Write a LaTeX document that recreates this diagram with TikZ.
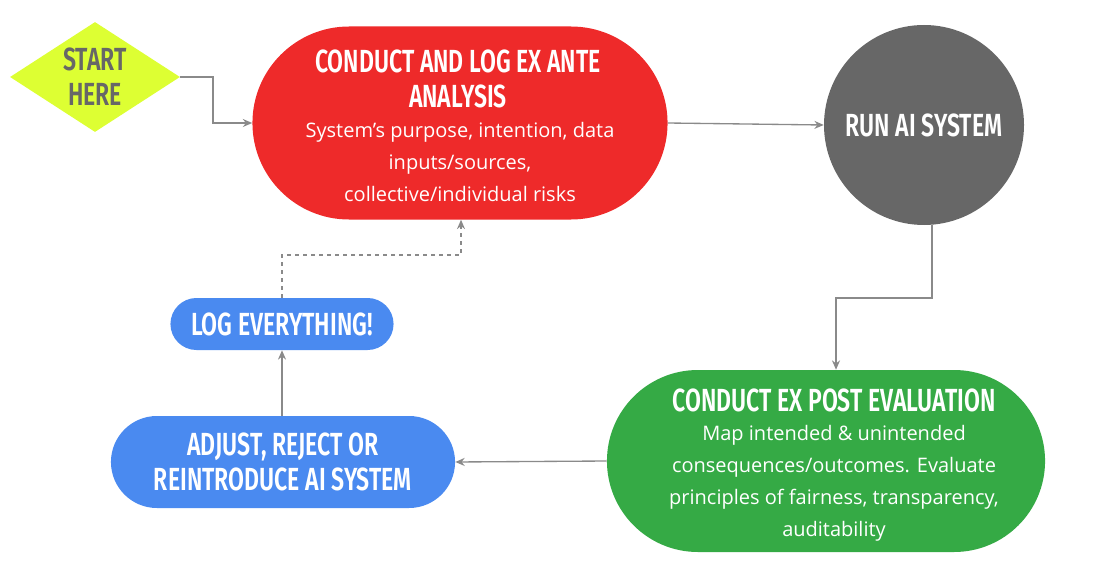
\documentclass[tikz,border=0pt]{standalone}
\usepackage{fontspec}
\setmainfont{Open Sans}
\newfontfamily\condf{Fira Sans}[UprightFont=* SemiBold,FakeStretch=0.72]
\usetikzlibrary{shapes.geometric,shapes.misc,arrows.meta}
\definecolor{cred}{HTML}{EE2A2A}
\definecolor{cgreen}{HTML}{35AA45}
\definecolor{cblue}{HTML}{4A8AF0}
\definecolor{cgray}{HTML}{676767}
\definecolor{cyel}{HTML}{DDFF33}
\definecolor{cline}{HTML}{8A8A8A}
\begin{document}
\begin{tikzpicture}[x=0.75pt,y=-0.75pt,
  ttl/.style={font=\condf\fontsize{24}{26}\selectfont,text=white,align=center},
  body/.style={font=\fontsize{15}{24}\selectfont,text=white,align=center},
  conn/.style={draw=cline,line width=1pt,-{Stealth[length=7pt,width=6pt]}}]
\useasboundingbox (0,0) rectangle (1094,570);
% shapes
\node[diamond,fill=cyel,minimum width=170*0.75pt,minimum height=110*0.75pt,inner sep=0] (start) at (95,77) {};
\node[font=\condf\fontsize{24}{26}\selectfont,text=cgray,align=center] at (95,77) {START\\HERE};
\node[rounded rectangle,fill=cred,minimum width=424*0.75pt,minimum height=193*0.75pt] (ante) at (460,123) {};
\node[ttl] at (458,79) {CONDUCT AND LOG EX ANTE\\ANALYSIS};
\node[body] at (460,162) {System's purpose, intention, data\\inputs/sources,\\collective/individual risks};
\node[circle,fill=cgray,minimum size=200*0.75pt] (run) at (924,125) {};
\node[ttl] at (924,125) {RUN AI SYSTEM};
\node[rounded rectangle,fill=cgreen,minimum width=447*0.75pt,minimum height=182*0.75pt] (post) at (826,461) {};
\node[ttl] at (834,400) {CONDUCT EX POST EVALUATION};
\node[body] at (834,483) {Map intended \& unintended\\consequences/outcomes. Evaluate\\principles of  fairness, transparency,\\auditability};
\node[rounded rectangle,fill=cblue,minimum width=353*0.75pt,minimum height=92*0.75pt] (adj) at (283,462) {};
\node[ttl] at (283,462) {ADJUST, REJECT OR\\REINTRODUCE AI SYSTEM};
\node[rounded rectangle,fill=cblue,minimum width=232*0.75pt,minimum height=52*0.75pt] (log) at (282,324) {};
\node[ttl] at (282,324) {LOG EVERYTHING!};
% connectors
\draw[conn] (start.east) -- (213,77) |- (ante.west);
\draw[conn] (ante.east) -- (run.west);
\coordinate (r1) at (932,298);
\draw[conn] (run.south -| r1) -- (r1) -| (post.north -| 836,0);
\draw[conn] (post.west) -- (adj.east);
\draw[conn] (adj.north -| log.south) -- (log.south);
\coordinate (d1) at (282,255);
\draw[conn,dashed] (log.north) -- (d1) -| (ante.south -| 461,0);
\end{tikzpicture}
\end{document}
